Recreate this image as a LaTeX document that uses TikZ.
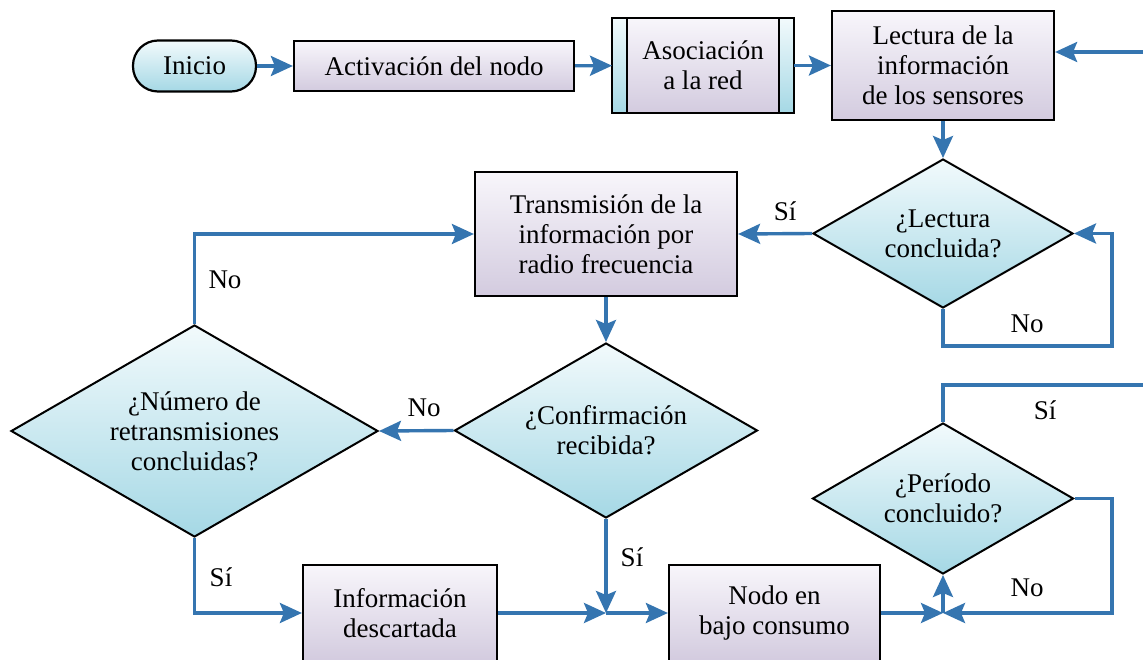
\documentclass[tikz,border=0pt]{standalone}
\usepackage{fontspec}
\setmainfont{Liberation Serif}
\usetikzlibrary{shapes.geometric,arrows.meta,calc}
\definecolor{flowblue}{HTML}{3575B0}
\definecolor{lavtop}{HTML}{F8F6FB}
\definecolor{lavbot}{HTML}{D3CBDF}
\definecolor{cyantop}{HTML}{F2FAFC}
\definecolor{cyanbot}{HTML}{A5D8E5}
\begin{document}
\begin{tikzpicture}[x=1pt,y=-1pt,
 every node/.style={font=\fontsize{27}{30}\selectfont},
 proc/.style={draw=black,line width=2.2pt,top color=lavtop,bottom color=lavbot,align=center,inner sep=0pt},
 decis/.style={diamond,draw=black,line width=2pt,top color=cyantop,bottom color=cyanbot,align=center,inner sep=0pt,shape aspect=1.74},
 conn/.style={draw=flowblue,line width=3.4pt,-{Stealth[length=22pt,width=20pt,inset=4pt]}},
 wire/.style={draw=flowblue,line width=3.4pt},
 lbl/.style={inner sep=0pt}
]
\useasboundingbox (0,0) rectangle (1143,660);

% nodes
\node[draw=black,line width=2.2pt,rounded corners=25pt,top color=cyantop,bottom color=cyanbot,minimum width=123pt,minimum height=51pt,inner sep=0pt] (inicio) at (194.5,66) {Inicio};
\node[proc,minimum width=280pt,minimum height=50pt] (act) at (434,66) {Activación del nodo};
\node[proc,outer sep=0pt,minimum width=182pt,minimum height=95pt] (asoc) at (703,65.5) {Asociación\\a la red};
\shade[top color=cyantop,bottom color=cyanbot] (asoc.north west) rectangle ($(asoc.south west)+(15,0)$);
\shade[top color=cyantop,bottom color=cyanbot] ($(asoc.north east)+(-15,0)$) rectangle (asoc.south east);
\draw[line width=2.2pt] ($(asoc.north west)+(15,0)$) -- ($(asoc.south west)+(15,0)$);
\draw[line width=2.2pt] ($(asoc.north east)+(-15,0)$) -- ($(asoc.south east)+(-15,0)$);
\draw[line width=2.2pt] (asoc.north west) rectangle (asoc.south east);
\node[proc,minimum width=222pt,minimum height=109pt] (lect) at (943,65.5) {Lectura de la\\información\\de los sensores};
\node[decis,minimum width=260pt,minimum height=149pt] (dlect) at (943,233.5) {¿Lectura\\concluida?};
\node[proc,minimum width=262pt,minimum height=124pt] (trans) at (606,234) {Transmisión de la\\información por\\radio frecuencia};
\node[decis,minimum width=303pt,minimum height=175pt] (dconf) at (606,430.5) {¿Confirmación\\recibida?};
\node[decis,minimum width=367pt,minimum height=212pt] (dnum) at (194.5,431) {¿Número de\\retransmisiones\\concluidas?};
\node[proc,minimum width=194pt,minimum height=96pt] (info) at (400,613) {Información\\descartada};
\node[proc,minimum width=211pt,minimum height=96pt] (nodo) at (774.5,613) {Nodo en\\bajo consumo};
\node[decis,minimum width=261pt,minimum height=151pt] (dper) at (943,498.5) {¿Período\\concluido?};

% helper coordinates
\coordinate (inR) at (1143,52);
\coordinate (loopA) at (1112,346);
\coordinate (J1) at (606,613);
\coordinate (J2) at (943,613);
\coordinate (loopB) at (1112,613);
\coordinate (exitT) at (1143,385);

% connectors
\draw[conn] (inicio) -- (act);
\draw[conn] (act) -- (asoc);
\draw[conn] (asoc) -- (lect);
\draw[conn] (inR) -- (inR -| lect.east);
\draw[conn] (lect) -- (dlect);
\draw[conn] (dlect.west) -- (trans.east);
\draw[conn] (dlect.south) |- (loopA) |- (dlect.east);
\draw[conn] (trans) -- (dconf);
\draw[conn] (dconf.west) -- (dnum.east);
\draw[conn] (dnum.north) |- (trans.west);
\draw[conn] (dnum.south) |- (info.west);
\draw[conn] (dconf.south) -- (J1);
\draw[conn] (info.east) -- (J1);
\draw[conn] (J1) -- (nodo.west);
\draw[conn] (nodo.east) -- (J2);
\draw[conn] (dper.east) -| (loopB) -- (J2);
\draw[conn] (J2) -- (dper.south);
\draw[wire] (dper.north) |- (exitT);

% labels
\node[lbl] (lSi1) at (785,211) {Sí};
\node[lbl] (lNo1) at (1027,324) {No};
\node[lbl] (lNo2) at (424,408) {No};
\node[lbl] (lNo3) at (225,280) {No};
\node[lbl] (lSi2) at (221,577) {Sí};
\node[lbl] (lSi3) at (632,557) {Sí};
\node[lbl] (lNo4) at (1027,588) {No};
\node[lbl] (lSi4) at (1045,410) {Sí};
\end{tikzpicture}
\end{document}
